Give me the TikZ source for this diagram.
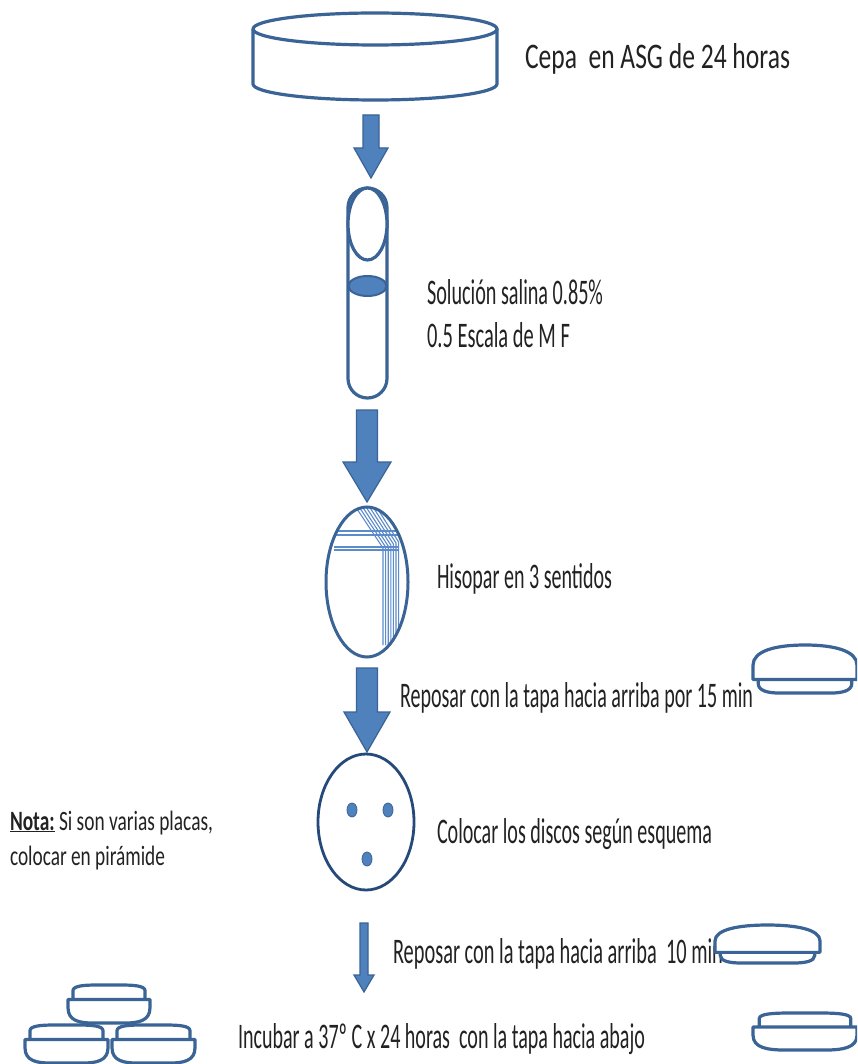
\documentclass[tikz,border=0pt]{standalone}
\usepackage{fontspec}
\setmainfont{Carlito}
\usepackage{graphicx}
\usetikzlibrary{calc}

\definecolor{edge}{HTML}{3A6396}
\definecolor{fillblue}{HTML}{4F81BD}
\definecolor{navy}{HTML}{254A7A}
\definecolor{streak}{HTML}{5B8BCB}
\definecolor{ink}{HTML}{222222}

\tikzset{
  plate/.style={draw=edge, line width=3.2pt, fill=white, line join=round},
  lbl/.style={anchor=base west, inner sep=0pt, outer sep=0pt,
    font=\fontsize{36}{40}\selectfont, text=ink},
  note/.style={lbl, font=\fontsize{28}{32}\selectfont},
  barrow/.style={fill=fillblue, draw=edge, line width=1.2pt, line join=miter},
  streakline/.style={draw=streak, line width=1.1pt},
  % Petri dish with the lid on top (wide dome above a narrow base)
  dishup/.pic={
    \path[plate] (-0.45,0.72) -- (-0.45,0.8) .. controls (-0.45,0.96) and (-0.35,1) .. (-0.25,1)
      -- (0.25,1) .. controls (0.35,1) and (0.45,0.96) .. (0.45,0.8) -- (0.45,0.72);
    \path[plate] (-0.5,0.72) -- (-0.5,0.42) .. controls (-0.5,0.12) and (-0.28,0) .. (0,0)
      .. controls (0.28,0) and (0.5,0.12) .. (0.5,0.42) -- (0.5,0.72) -- cycle;
  },
  % Petri dish turned over (narrow band above a wide rounded body)
  dishdown/.pic={
    \path[plate] (-0.44,0.38) -- (-0.44,0.15) .. controls (-0.44,0.02) and (-0.3,0) .. (-0.15,0)
      -- (0.15,0) .. controls (0.3,0) and (0.44,0.02) .. (0.44,0.15) -- (0.44,0.38);
    \path[plate] (-0.5,0.38) -- (-0.5,0.6) .. controls (-0.5,0.95) and (-0.35,1) .. (-0.2,1)
      -- (0.2,1) .. controls (0.35,1) and (0.5,0.95) .. (0.5,0.6) -- (0.5,0.38) -- cycle;
  },
}

% vertical block arrow: from, to, shaft half width, head half width, head length
\newcommand\blockarrow[5]{%
  \path[barrow] let \p1=(#1), \p2=(#2) in
    (\x1-#3,\y1) -- (\x1+#3,\y1) -- (\x1+#3,\y2+#5) -- (\x1+#4,\y2+#5)
    -- (\x1,\y2) -- (\x1-#4,\y2+#5) -- (\x1-#3,\y2+#5) -- cycle;}

\begin{document}
\begin{tikzpicture}[x=1pt,y=-1pt]
\useasboundingbox (0,0) rectangle (857,1064);
\clip (0,0) rectangle (857,1064);
\fill[white] (0,0) rectangle (857,1064);

% ---- culture plate (cylinder) ----
\path[plate] (253,29) -- (253,84) .. controls (253,92.8) and (307.6,100) .. (375,100)
  .. controls (442.4,100) and (497,92.8) .. (497,84) -- (497,29);
\draw[plate] (375,29) ellipse [x radius=122, y radius=16];
\coordinate (cultureBottom) at (371,115);
\node[lbl] (cepa) at (525,69) {\resizebox{265pt}{\height}{Cepa\ \ en ASG de 24 horas}};

% ---- tube with saline ----
\coordinate (tubeTop) at (371,178);
\blockarrow{cultureBottom}{tubeTop}{8pt}{17pt}{30pt}
\draw[plate, rounded corners=19.5pt] (348,188) rectangle (387,398);
\draw[plate] (367.5,224) ellipse [x radius=19.5, y radius=36];
\filldraw[fill=fillblue, draw=edge, line width=2pt] (367.5,286) ellipse [x radius=19, y radius=10];
\node[lbl] (saline) at (427,304) {\resizebox{176pt}{\height}{Solución salina 0.85\%}};
\node[lbl] (mcf) at (427,347) {\resizebox{143pt}{\height}{0.5 Escala de M F}};

% ---- swabbed plate ----
\coordinate (tubeBottom) at (367,410);
\coordinate (swabTop) at (367,502);
\blockarrow{tubeBottom}{swabTop}{10.5pt}{24pt}{40pt}
\begin{scope}
  \clip (367,582) ellipse [x radius=40, y radius=74];
  \foreach \i in {0,...,6} {
    \draw[streakline] (351+3.5*\i,500) -- (383+2.6*\i,548-\i) -- (383+2.6*\i,645);
  }
  \draw[streakline, line width=2pt] (330,531) -- (400,531);
  \draw[streakline] (330,535) -- (400,535);
  \draw[streakline] (334,547) -- (398,547);
  \draw[streakline] (334,550) -- (398,550);
\end{scope}
\draw[draw=edge, line width=3pt] (367,582) ellipse [x radius=41, y radius=75];
\node[lbl] (swab) at (437,588) {\resizebox{175pt}{\height}{Hisopar en 3 sentidos}};

% ---- rest 15 min ----
\coordinate (swabBottom) at (367,668);
\coordinate (discTop) at (367,752);
\blockarrow{swabBottom}{discTop}{10.5pt}{23pt}{40pt}
\node[lbl] (rest15) at (400,707) {\resizebox{353pt}{\height}{Reposar con la tapa hacia arriba por 15 min}};
\pic[xscale=104, yscale=48] at (805,645) {dishup};

% ---- plate with discs ----
\draw[draw=navy, line width=2.8pt] (366,822) ellipse [x radius=48, y radius=68];
\foreach \p in {(352,810),(388,810),(367,859)}
  \filldraw[fill=fillblue, draw=edge, line width=0.8pt] \p ellipse [x radius=5, y radius=7];
\node[lbl] (discs) at (437,843) {\resizebox{275pt}{\height}{Colocar los discos según esquema}};
\node[note] (nota1) at (10,830) {\resizebox{203pt}{\height}{\underline{\textbf{Nota:}} Si son varias placas,}};
\node[note] (nota2) at (10,865) {\resizebox{155pt}{\height}{colocar en pirámide}};

% ---- rest 10 min ----
\coordinate (discBottom) at (364,923);
\coordinate (incubate) at (364,992);
\blockarrow{discBottom}{incubate}{4pt}{10pt}{17pt}
\node[lbl] (rest10) at (393,963) {\resizebox{330pt}{\height}{Reposar con la tapa hacia arriba\ \ 10 min}};
\pic[xscale=105, yscale=38] at (767.5,925) {dishup};

% ---- incubation ----
\node[lbl] (incub) at (238,1048) {\resizebox{407pt}{\height}{Incubar a 37º C x 24 horas\ \ con la tapa hacia abajo}};
\pic[xscale=104, yscale=37] at (805,1013) {dishdown};
\pic[xscale=82, yscale=38] at (109,985) {dishdown};
\pic[xscale=83, yscale=38] at (66.5,1025) {dishdown};
\pic[xscale=83, yscale=38] at (153.5,1025) {dishdown};
\end{tikzpicture}
\end{document}
